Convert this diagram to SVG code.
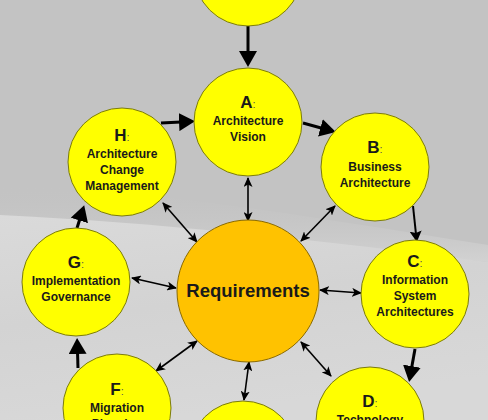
<svg xmlns="http://www.w3.org/2000/svg" width="488" height="420" viewBox="0 0 488 420">
<defs>
<linearGradient id="bgLight" x1="0" y1="0" x2="0.3" y2="1">
<stop offset="0" stop-color="#dadada"/>
<stop offset="0.5" stop-color="#d3d3d3"/>
<stop offset="1" stop-color="#d8d8d8"/>
</linearGradient>
<linearGradient id="band" x1="0" y1="0" x2="0" y2="1">
<stop offset="0" stop-color="#c3c3c3" stop-opacity="0"/>
<stop offset="1" stop-color="#d2d2d2" stop-opacity="1"/>
</linearGradient>
<marker id="big" markerUnits="userSpaceOnUse" markerWidth="16" markerHeight="18" viewBox="0 0 16 18" refX="12" refY="9" orient="auto">
<path d="M0,0 L16,9 L0,18 z" fill="#000"/>
</marker>
<marker id="mid" markerUnits="userSpaceOnUse" markerWidth="11" markerHeight="12" viewBox="0 0 11 12" refX="8" refY="6" orient="auto">
<path d="M0,0 L11,6 L0,12 L2,6 z" fill="#000"/>
</marker>
<marker id="sm" markerUnits="userSpaceOnUse" markerWidth="10" markerHeight="9" viewBox="0 0 10 9" refX="9" refY="4.5" orient="auto-start-reverse">
<path d="M0,0 L10,4.5 L0,9 L2.5,4.5 z" fill="#000"/>
</marker>
</defs>
<style>
.node{fill:#ffff00;stroke:#7a7a10;stroke-width:1}
.req{fill:#ffc200;stroke:#8a6a00;stroke-width:1}
.t{font-family:"Liberation Sans",Arial,sans-serif;font-weight:bold;font-size:12px;fill:#1a1a1a;text-anchor:middle}
.L{font-size:17px}
.c{font-weight:normal;font-size:11px;fill:#555}
.thick{stroke:#000;stroke-width:3;fill:none;marker-end:url(#big)}
.medium{stroke:#000;stroke-width:2;fill:none;marker-end:url(#mid)}
.dbl{stroke:#000;stroke-width:1.6;fill:none;marker-start:url(#sm);marker-end:url(#sm)}
</style>
<g id="background">
<rect x="0" y="0" width="488" height="420" fill="#c3c3c3"/>
<path d="M0,185 C140,188 300,215 488,245 L488,262 L0,215 Z" fill="url(#band)"/>
<path d="M0,215 C150,222 320,240 488,262 L488,420 L0,420 Z" fill="url(#bgLight)"/>
</g>
<g id="connectors">
<line class="thick" x1="248" y1="26" x2="248" y2="63"/>
<line class="thick" x1="161" y1="123" x2="191" y2="121.5"/>
<line class="thick" x1="303" y1="123" x2="332" y2="131"/>
<line class="medium" x1="413" y1="206" x2="416.5" y2="239"/>
<line class="thick" x1="415" y1="349" x2="409.8" y2="378"/>
<line class="thick" x1="78" y1="368" x2="77.2" y2="342"/>
<line class="thick" x1="77" y1="228" x2="83" y2="209"/>
<line class="dbl" x1="248" y1="221" x2="248" y2="178"/>
<line class="dbl" x1="197" y1="242" x2="163" y2="203"/>
<line class="dbl" x1="301" y1="241" x2="335" y2="206"/>
<line class="dbl" x1="176" y1="288" x2="132" y2="278"/>
<line class="dbl" x1="320" y1="290" x2="361" y2="293"/>
<line class="dbl" x1="197" y1="341" x2="156" y2="371"/>
<line class="dbl" x1="249" y1="362" x2="244" y2="400"/>
<line class="dbl" x1="301" y1="342" x2="331" y2="376"/>
</g>
<g id="node-preliminary"><circle class="node" cx="248" cy="-28" r="54"/></g>
<g id="node-A">
<circle class="node" cx="248" cy="122" r="54"/>
<text class="t" x="248" y="108"><tspan class="L">A</tspan><tspan class="c">:</tspan></text>
<text class="t" x="248" y="125">Architecture</text>
<text class="t" x="248" y="141">Vision</text>
</g>
<g id="node-B">
<circle class="node" cx="375" cy="167" r="54"/>
<text class="t" x="375" y="153"><tspan class="L">B</tspan><tspan class="c">:</tspan></text>
<text class="t" x="375" y="171">Business</text>
<text class="t" x="375" y="187">Architecture</text>
</g>
<g id="node-C">
<circle class="node" cx="415" cy="294" r="54"/>
<text class="t" x="415" y="267"><tspan class="L">C</tspan><tspan class="c">:</tspan></text>
<text class="t" x="415" y="284">Information</text>
<text class="t" x="415" y="300">System</text>
<text class="t" x="415" y="316">Architectures</text>
</g>
<g id="node-D">
<circle class="node" cx="370" cy="421" r="54"/>
<text class="t" x="370" y="407"><tspan class="L">D</tspan><tspan class="c">:</tspan></text>
<text class="t" x="370" y="424">Technology</text>
</g>
<g id="node-E"><circle class="node" cx="243" cy="455" r="54"/></g>
<g id="node-F">
<circle class="node" cx="117" cy="408" r="54"/>
<text class="t" x="117" y="395"><tspan class="L">F</tspan><tspan class="c">:</tspan></text>
<text class="t" x="117" y="412">Migration</text>
<text class="t" x="117" y="428">Planning</text>
</g>
<g id="node-G">
<circle class="node" cx="76" cy="282" r="54"/>
<text class="t" x="76" y="268"><tspan class="L">G</tspan><tspan class="c">:</tspan></text>
<text class="t" x="76" y="285">Implementation</text>
<text class="t" x="76" y="301">Governance</text>
</g>
<g id="node-H">
<circle class="node" cx="122" cy="162" r="54"/>
<text class="t" x="122" y="141"><tspan class="L">H</tspan><tspan class="c">:</tspan></text>
<text class="t" x="122" y="158">Architecture</text>
<text class="t" x="122" y="174">Change</text>
<text class="t" x="122" y="190">Management</text>
</g>
<g id="node-requirements">
<circle class="req" cx="248" cy="291" r="71"/>
<text class="t" x="248" y="297" style="font-size:18.5px">Requirements</text>
</g>
</svg>
